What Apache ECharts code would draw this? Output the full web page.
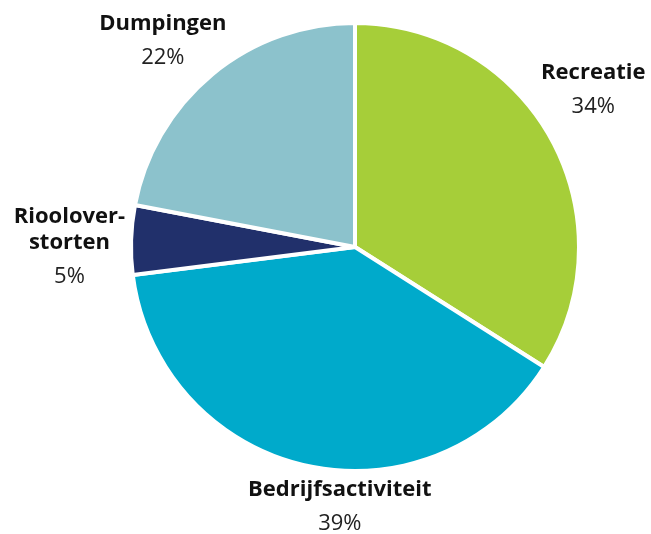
<!DOCTYPE html>
<html>
<head>
<meta charset="utf-8">
<script src="https://cdn.jsdelivr.net/npm/echarts@6/dist/echarts.min.js"></script>
<style>
  html, body { margin: 0; padding: 0; background: #fff; }
  #chart { width: 651px; height: 534px; }
</style>
</head>
<body>
<div id="chart"></div>
<script>
// data
const categories = ["Recreatie", "Bedrijfsactiviteit", "Rioolover-\nstorten", "Dumpingen"];
const shares = [34, 39, 5, 22];
const colors = ["#a6ce39", "#00aacb", "#21306b", "#8cc2cc"];

// layout
const cx = 355;
const cy = 247;
const radius = 224;
const labelGap = 8;
// small hand tweaks so labels sit like the original
const labelNudge = [[-9, -29], [55, 12], [0, 12], [-5, -3]];

const total = shares.reduce((a, b) => a + b, 0);
const midAngles = [];
let cum = 0;
shares.forEach(v => {
  midAngles.push(((cum + v / 2) / total) * Math.PI * 2);
  cum += v;
});

const chart = echarts.init(document.getElementById("chart"));

chart.setOption({
  animation: false,
  series: [
    {
      type: "pie",
      center: [cx, cy],
      radius: radius,
      startAngle: 90,
      clockwise: true,
      data: categories.map((name, i) => ({
        name: name,
        value: shares[i],
        itemStyle: { color: colors[i] }
      })),
      itemStyle: { borderColor: "#fff", borderWidth: 4 },
      label: {
        show: true,
        position: "outside",
        overflow: "none",
        formatter: "{n|{b}}\n{p|{c}%}",
        rich: {
          n: {
            fontFamily: "Open Sans",
            fontWeight: "bold",
            fontSize: 22,
            lineHeight: 26,
            color: "#111",
            align: "center"
          },
          p: {
            fontFamily: "Open Sans",
            fontSize: 22,
            lineHeight: 42,
            color: "#222",
            align: "center"
          }
        }
      },
      labelLine: { show: false },
      labelLayout: function (params) {
        const i = params.dataIndex;
        const a = midAngles[i];
        const ux = Math.sin(a);
        const uy = -Math.cos(a);
        const w = params.labelRect.width / 2;
        const h = params.labelRect.height / 2;
        const r = radius - 2 + labelGap;
        return {
          x: cx + ux * r + ux * w + labelNudge[i][0],
          y: cy + uy * r + uy * h + labelNudge[i][1],
          align: "center",
          verticalAlign: "middle"
        };
      },
      emphasis: { disabled: true }
    }
  ]
});

window.addEventListener("resize", () => chart.resize());
</script>
</body>
</html>
